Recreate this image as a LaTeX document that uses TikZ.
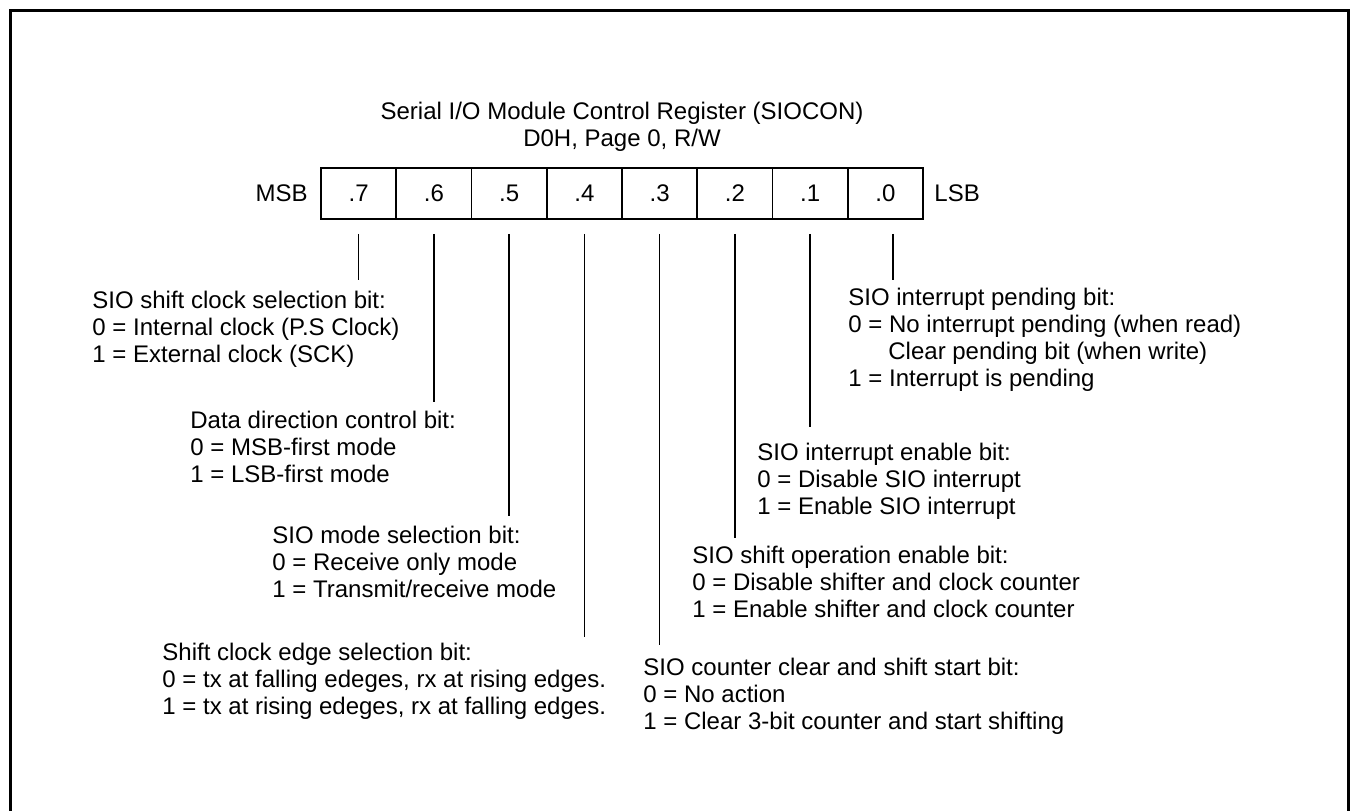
\documentclass[tikz,border=0pt]{standalone}
\usepackage{fontspec}
\setmainfont{Liberation Sans}
\usetikzlibrary{calc}
\begin{document}
\begin{tikzpicture}[x=0.5pt,y=-0.5pt,
  txt/.style={font=\fontsize{12}{13.5}\selectfont, inner sep=0pt},
  desc/.style={txt, anchor=north west, align=left},
  cell/.style={draw, line width=0.75pt, minimum width=37.625pt, minimum height=25.65pt, inner sep=0pt, txt},
  lead/.style={line width=0.75pt}]
\useasboundingbox (0,0) rectangle (1350,810);
\draw[line width=1.5pt] (10.5,815) -- (10.5,10.5) -- (1348.5,10.5) -- (1348.5,815);

\node[txt, align=center, anchor=north] (title) at (622,101.5) {Serial I/O Module Control Register (SIOCON)\\D0H, Page 0, R/W};

\node[cell] (c7) at (358.6,193.4) {.7};
\node[cell] (c6) at (433.9,193.4) {.6};
\node[cell] (c5) at (509.1,193.4) {.5};
\node[cell] (c4) at (584.4,193.4) {.4};
\node[cell] (c3) at (659.6,193.4) {.3};
\node[cell] (c2) at (734.9,193.4) {.2};
\node[cell] (c1) at (810.1,193.4) {.1};
\node[cell] (c0) at (885.4,193.4) {.0};
\node[txt, anchor=east] (msb) at (308,193.4) {MSB};
\node[txt, anchor=west] (lsb) at (934,193.4) {LSB};

\node[desc] (b7) at (92,291) {SIO shift clock selection bit:\\0 = Internal clock (P.S Clock)\\1 = External clock (SCK)};
\node[desc] (b6) at (190,411) {Data direction control bit:\\0 = MSB-first mode\\1 = LSB-first mode};
\node[desc] (b5) at (272,526) {SIO mode selection bit:\\0 = Receive only mode\\1 = Transmit/receive mode};
\node[desc] (b4) at (162,643) {Shift clock edge selection bit:\\0 = tx at falling edeges, rx at rising edges.\\1 = tx at rising edeges, rx at falling edges.};
\node[desc] (b3) at (643,658) {SIO counter clear and shift start bit:\\0 = No action\\1 = Clear 3-bit counter and start shifting};
\node[desc] (b2) at (692,546) {SIO shift operation enable bit:\\0 = Disable shifter and clock counter\\1 = Enable shifter and clock counter};
\node[desc] (b1) at (757,443) {SIO interrupt enable bit:\\0 = Disable SIO interrupt\\1 = Enable SIO interrupt};
\node[desc] (b0) at (848,288) {SIO interrupt pending bit:\\0 = No interrupt pending (when read)\\\hspace*{20pt}Clear pending bit (when write)\\1 = Interrupt is pending};

\draw[lead] ($(c7.south)+(0,14)$) -- ($(c7.south |- b7.north)+(0,-11)$);
\draw[lead] ($(c6.south)+(0,14)$) -- ($(c6.south |- b6.north)+(0,-9)$);
\draw[lead] ($(c5.south)+(0,14)$) -- ($(c5.south |- b5.north)+(0,-10)$);
\draw[lead] ($(c4.south)+(0,14)$) -- ($(c4.south |- b4.north)+(0,-6)$);
\draw[lead] ($(c3.south)+(0,14)$) -- ($(c3.south |- b3.north)+(0,-13)$);
\draw[lead] ($(c2.south)+(0,14)$) -- ($(c2.south |- b2.north)+(0,-8)$);
\draw[lead] ($(c1.south)+(0,14)$) -- ($(c1.south |- b1.north)+(0,-16)$);
\draw[lead] ($(c0.south)+(7.5,14)$) -- ($(c0.south |- b0.north)+(7.5,-8)$);
\end{tikzpicture}
\end{document}
